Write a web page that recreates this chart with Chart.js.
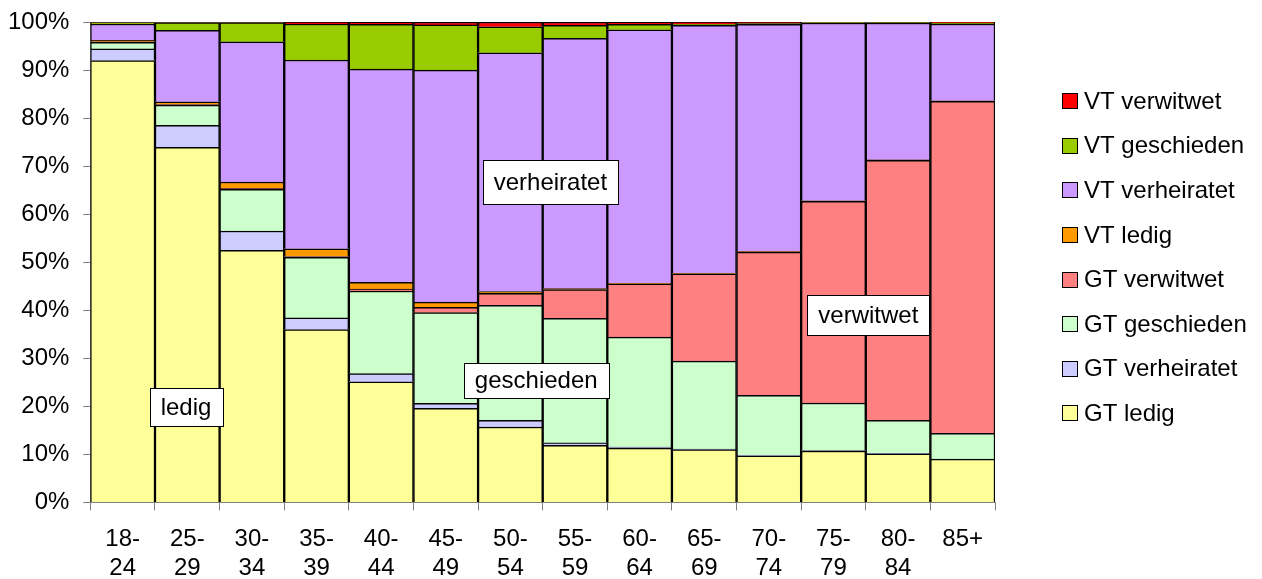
<!DOCTYPE html>
<html>
<head>
<meta charset="utf-8">
<script src="https://cdn.jsdelivr.net/npm/chart.js@4/dist/chart.umd.min.js"></script>
<style>
  html, body { margin: 0; padding: 0; background: #fff; }
  #wrap { width: 1262px; height: 579px; }
</style>
</head>
<body>
<div id="wrap"><canvas id="familienstand_chart"></canvas></div>
<script>
const ageGroups = [["18-", "24"], ["25-", "29"], ["30-", "34"], ["35-", "39"], ["40-", "44"], ["45-", "49"], ["50-", "54"],
    ["55-", "59"], ["60-", "64"], ["65-", "69"], ["70-", "74"], ["75-", "79"], ["80-", "84"], "85+"];

// shares in percent per age group
const gtLedig        = [92.0, 73.9, 52.5, 36.0, 25.1, 19.6, 15.7, 11.9, 11.3, 11.0,  9.7, 10.7, 10.1,  9.0];
const gtVerheiratet  = [ 2.4,  4.6,  4.0,  2.4,  1.7,  1.0,  1.4,  0.5,  0.2,  0.1,  0.1,  0.1,  0.1,  0.0];
const gtGeschieden   = [ 1.4,  4.2,  8.7, 12.6, 17.2, 18.9, 23.9, 25.9, 22.9, 18.3, 12.5,  9.9,  6.9,  5.4];
const gtVerwitwet    = [ 0.1,  0.1,  0.2,  0.2,  0.4,  1.1,  2.5,  6.0, 11.1, 18.2, 29.8, 42.0, 54.1, 69.1];
const vtLedig        = [ 0.3,  0.6,  1.3,  1.6,  1.4,  1.1,  0.4,  0.2,  0.1,  0.1,  0.1,  0.1,  0.1,  0.1];
const vtVerheiratet  = [ 3.4, 14.9, 29.2, 39.3, 44.4, 48.3, 49.7, 52.1, 52.8, 51.6, 47.3, 37.0, 28.5, 16.0];
const vtGeschieden   = [ 0.3,  1.6,  4.0,  7.5,  9.3,  9.4,  5.4,  2.7,  1.1,  0.3,  0.2,  0.1,  0.1,  0.2];
const vtVerwitwet    = [ 0.1,  0.1,  0.1,  0.4,  0.5,  0.6,  1.0,  0.7,  0.5,  0.4,  0.3,  0.1,  0.1,  0.2];

const yTicks = [0, 10, 20, 30, 40, 50, 60, 70, 80, 90, 100];

// text boxes inside the plot: [text, category position, value, box height]
const boxLabels = [
    ["verheiratet", 6.62, 66.7, 44],
    ["ledig", 0.98, 19.8, 38],
    ["geschieden", 6.40, 25.4, 35],
    ["verwitwet", 11.54, 39.0, 40]
];

const font = "'Liberation Sans', Arial, sans-serif";

function series(label, data, color) {
    return {
        label: label,
        data: data,
        backgroundColor: color,
        borderColor: '#000',
        borderWidth: 1.5,
        categoryPercentage: 1.0,
        barPercentage: 1.0
    };
}

const boxLabelPlugin = {
    id: 'boxLabels',
    afterDatasetsDraw(chart) {
        const c = chart.ctx;
        const x = chart.scales.x, y = chart.scales.y;
        const step = x.getPixelForValue(1) - x.getPixelForValue(0);
        c.save();
        c.font = '24px ' + font;
        c.textAlign = 'center';
        c.textBaseline = 'middle';
        boxLabels.forEach(([text, pos, val, h]) => {
            const px = x.getPixelForValue(Math.floor(pos)) + (pos - Math.floor(pos)) * step;
            const py = y.getPixelForValue(val);
            const w = Math.round(c.measureText(text).width + 22);
            const left = Math.round(px - w / 2), top = Math.round(py - h / 2);
            c.fillStyle = '#fff';
            c.fillRect(left, top, w, h);
            c.strokeStyle = '#000';
            c.lineWidth = 1;
            c.strokeRect(left + 0.5, top + 0.5, w, h);
            c.fillStyle = '#000';
            c.fillText(text, px, py + 1);
        });
        c.restore();
    }
};

// legend drawn by hand so it can sit apart from the plot like the original
const sideLegendPlugin = {
    id: 'sideLegend',
    afterDraw(chart) {
        const c = chart.ctx;
        const area = chart.chartArea;
        const sets = chart.data.datasets.slice().reverse();
        const mid = (area.top + area.bottom) / 2 - 5;
        const gap = 44.6;
        c.save();
        c.font = '24px ' + font;
        c.textBaseline = 'middle';
        c.textAlign = 'left';
        sets.forEach((ds, i) => {
            const cy = mid + (i - (sets.length - 1) / 2) * gap;
            const bx = area.right + 67;
            c.fillStyle = ds.backgroundColor;
            c.fillRect(bx, Math.round(cy - 8), 15, 15);
            c.strokeStyle = '#000';
            c.lineWidth = 1;
            c.strokeRect(bx + 0.5, Math.round(cy - 8) + 0.5, 15, 15);
            c.fillStyle = '#000';
            c.fillText(ds.label, bx + 22, cy + 1);
        });
        c.restore();
    }
};

const ctx = document.getElementById('familienstand_chart').getContext('2d');

const chart = new Chart(ctx, {
    type: 'bar',
    data: {
        labels: ageGroups,
        datasets: [
            series('GT ledig', gtLedig, '#FFFF99'),
            series('GT verheiratet', gtVerheiratet, '#CCCCFF'),
            series('GT geschieden', gtGeschieden, '#CCFFCC'),
            series('GT verwitwet', gtVerwitwet, '#FF8080'),
            series('VT ledig', vtLedig, '#FF9900'),
            series('VT verheiratet', vtVerheiratet, '#CC99FF'),
            series('VT geschieden', vtGeschieden, '#99CC00'),
            series('VT verwitwet', vtVerwitwet, '#FF0000')
        ]
    },
    options: {
        responsive: true,
        maintainAspectRatio: false,
        animation: false,
        layout: { padding: { top: 0, right: 267, left: -6, bottom: -19 } },
        scales: {
            x: {
                stacked: true,
                grid: { offset: true, drawOnChartArea: false, color: '#808080', tickLength: 8 },
                border: { color: '#808080' },
                ticks: { color: '#000', font: { family: font, size: 24 }, padding: 15, maxRotation: 0 }
            },
            y: {
                stacked: true,
                min: 0,
                max: 100,
                afterBuildTicks: (axis) => { axis.ticks = yTicks.map(v => ({ value: v })); },
                grid: { drawOnChartArea: false, color: '#808080', tickLength: 7 },
                border: { color: '#808080' },
                ticks: { color: '#000', font: { family: font, size: 24, lineHeight: 0.67 }, padding: 14, callback: (v) => v + '%' }
            }
        },
        plugins: {
            tooltip: { enabled: false },
            legend: { display: false }
        }
    },
    plugins: [boxLabelPlugin, sideLegendPlugin]
});
</script>
</body>
</html>
